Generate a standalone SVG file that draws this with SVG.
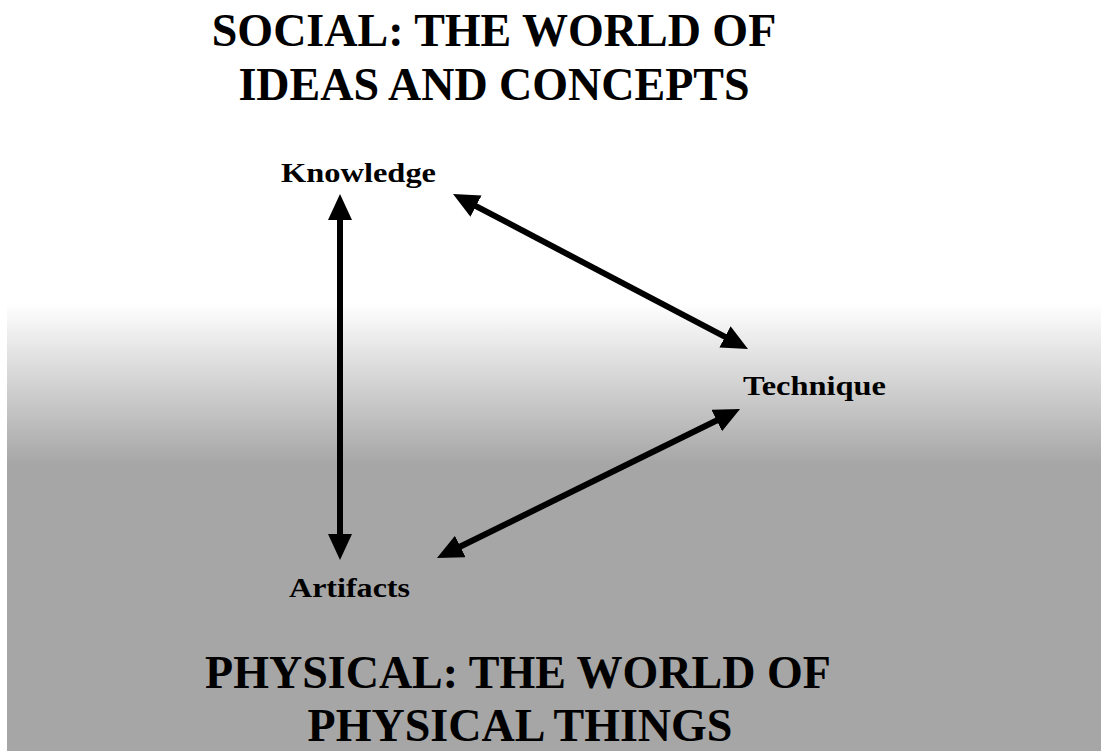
<svg xmlns="http://www.w3.org/2000/svg" width="1101" height="751" viewBox="0 0 1101 751">
<style>
.title{font-family:"Liberation Serif","Times New Roman",serif;font-weight:bold;font-size:46px;fill:#000;text-anchor:middle}
.lbl{font-family:"Liberation Serif","Times New Roman",serif;font-weight:bold;font-size:28px;fill:#000}
.conn{stroke:#000;stroke-width:6;fill:none;marker-start:url(#ah);marker-end:url(#ah)}
</style>
<defs>
<linearGradient id="bg" x1="0" y1="303" x2="0" y2="751" gradientUnits="userSpaceOnUse">
<stop offset="0" stop-color="#ffffff"/>
<stop offset="0.36" stop-color="#a6a6a6"/>
<stop offset="1" stop-color="#a6a6a6"/>
</linearGradient>
<marker id="ah" markerUnits="userSpaceOnUse" markerWidth="28" markerHeight="26" refX="5" refY="12" orient="auto-start-reverse" viewBox="0 0 28 26">
<path d="M0,0 L26,12 L0,24 z" fill="#000"/>
</marker>
</defs>
<rect x="0" y="0" width="1101" height="751" fill="#ffffff"/>
<rect x="7" y="303" width="1094" height="448" fill="url(#bg)"/>
<g id="title-social">
<text class="title" x="494" y="46">SOCIAL: THE WORLD OF</text>
<text class="title" x="494" y="100">IDEAS AND CONCEPTS</text>
</g>
<g id="title-physical">
<text class="title" x="518" y="688">PHYSICAL: THE WORLD OF</text>
<text class="title" x="520" y="741">PHYSICAL THINGS</text>
</g>
<g id="node-knowledge"><text class="lbl" x="281" y="182" textLength="155" lengthAdjust="spacingAndGlyphs">Knowledge</text></g>
<g id="node-technique"><text class="lbl" x="743" y="395" textLength="143" lengthAdjust="spacingAndGlyphs">Technique</text></g>
<g id="node-artifacts"><text class="lbl" x="289" y="597" textLength="121" lengthAdjust="spacingAndGlyphs">Artifacts</text></g>
<g id="connectors">
<line class="conn" x1="340" y1="215" x2="340" y2="539"/>
<line class="conn" x1="471.6" y1="203.8" x2="729.4" y2="339.2"/>
<line class="conn" x1="721.2" y1="418.3" x2="455.8" y2="548.7"/>
</g>
</svg>
